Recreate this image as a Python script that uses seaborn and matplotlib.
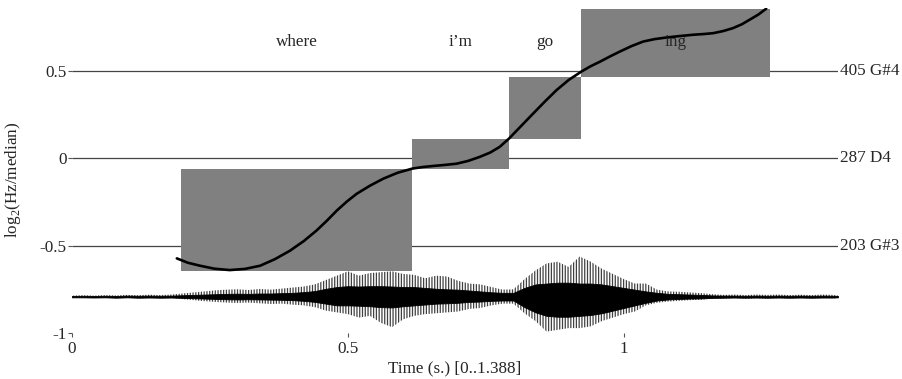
"""
Pitch contour (log2 Hz/median) over time with note boxes and waveform.
"""

import numpy as np
import pandas as pd
import matplotlib
matplotlib.use("Agg")
import matplotlib.pyplot as plt
import seaborn as sns

sns.set_theme(style="white")
plt.rcParams["font.family"] = ["Liberation Serif", "DejaVu Serif"]
plt.rcParams["mathtext.fontset"] = "custom"
plt.rcParams["mathtext.rm"] = "Liberation Serif"
plt.rcParams["axes.unicode_minus"] = False
plt.rcParams["hatch.linewidth"] = 0.9

T_END = 1.388
FS = 12.3

# ── datos ────────────────────────────────────────────────────────────────────
WORDS      = ["where", "i\u2019m", "go", "ing"]
BOX_START  = [0.197, 0.617, 0.792, 0.923]
BOX_END    = [0.617, 0.792, 0.923, 1.264]
BOX_BOTTOM = [-0.647, -0.063, 0.113, 0.466]
BOX_TOP    = [-0.063, 0.113, 0.466, 0.856]

LEVELS       = [0.5, 0.0, -0.5]
RIGHT_LABELS = ["405 G#4", "287 D4", "203 G#3"]

Y_TICKS  = [-1, -0.5, 0, 0.5]
Y_LABELS = ["-1", "-0.5", "0", "0.5"]
X_TICKS  = [0, 0.5, 1]
X_LABELS = ["0", "0.5", "1"]

CURVE_T = [0.190, 0.210, 0.232, 0.258, 0.286, 0.314, 0.341, 0.368, 0.395, 0.420,
           0.443, 0.462, 0.480, 0.498, 0.516, 0.540, 0.564, 0.590, 0.617, 0.636,
           0.655, 0.676, 0.697, 0.718, 0.739, 0.758, 0.775, 0.792, 0.814, 0.836,
           0.857, 0.878, 0.900, 0.923, 0.940, 0.957, 0.975, 0.993, 1.014, 1.035,
           1.056, 1.077, 1.100, 1.126, 1.145, 1.162, 1.180, 1.198, 1.214, 1.228,
           1.244, 1.258]
CURVE_Y = [-0.573, -0.598, -0.615, -0.632, -0.640, -0.633, -0.615, -0.577, -0.529, -0.474,
           -0.414, -0.357, -0.299, -0.248, -0.203, -0.157, -0.117, -0.083, -0.059, -0.050,
           -0.044, -0.038, -0.031, -0.015, 0.008, 0.033, 0.065, 0.113, 0.185, 0.257,
           0.325, 0.390, 0.448, 0.496, 0.527, 0.553, 0.583, 0.611, 0.642, 0.668,
           0.682, 0.691, 0.699, 0.707, 0.711, 0.716, 0.728, 0.745, 0.767, 0.793,
           0.823, 0.856]

# forma de onda: envolvente (desplazamientos desde el centro)
WAVE_CENTER = -0.792
WAVE_T = [0.00, 0.02, 0.04, 0.06, 0.08, 0.10, 0.12, 0.14, 0.16, 0.18,
          0.20, 0.22, 0.24, 0.26, 0.28, 0.30, 0.32, 0.34, 0.36, 0.38,
          0.40, 0.42, 0.44, 0.46, 0.48, 0.50, 0.52, 0.54, 0.56, 0.58,
          0.60, 0.62, 0.64, 0.66, 0.68, 0.70, 0.72, 0.74, 0.76, 0.78,
          0.80, 0.82, 0.84, 0.86, 0.88, 0.90, 0.92, 0.94, 0.96, 0.98,
          1.00, 1.02, 1.04, 1.06, 1.08, 1.10, 1.12, 1.14, 1.16, 1.18,
          1.20, 1.22, 1.24, 1.26, 1.28, 1.30, 1.32, 1.34, 1.36, 1.38, 1.388]
WAVE_UP = [.006, .008, .006, .009, .007, .010, .008, .011, .009, .012,
           .018, .024, .030, .036, .040, .042, .038, .044, .040, .046,
           .052, .058, .070, .095, .120, .145, .120, .135, .140, .145,
           .130, .125, .105, .120, .115, .090, .075, .070, .055, .040,
           .042, .100, .150, .190, .200, .170, .230, .200, .160, .130,
           .100, .075, .075, .040, .030, .028, .024, .020, .014, .010,
           .012, .009, .012, .010, .012, .009, .011, .009, .012, .010, .006]
WAVE_DOWN = [.006, .005, .008, .006, .009, .007, .010, .008, .010, .009,
             .014, .020, .026, .030, .034, .036, .034, .038, .042, .040,
             .046, .050, .060, .080, .090, .100, .120, .110, .150, .175,
             .130, .110, .100, .095, .090, .085, .070, .065, .050, .040,
             .040, .095, .140, .200, .190, .180, .180, .170, .140, .120,
             .100, .085, .050, .035, .028, .024, .020, .018, .012, .012,
             .009, .012, .010, .012, .009, .011, .009, .011, .009, .010, .006]
CORE_UP = [.004, .005, .004, .005, .004, .006, .005, .006, .005, .006,
           .008, .010, .012, .014, .016, .017, .016, .018, .018, .020,
           .022, .026, .032, .045, .055, .060, .058, .060, .060, .058,
           .055, .055, .050, .045, .042, .040, .035, .030, .025, .022,
           .022, .050, .070, .075, .080, .080, .075, .075, .070, .060,
           .050, .040, .030, .022, .016, .014, .012, .010, .007, .006,
           .006, .005, .006, .005, .006, .005, .006, .005, .006, .005, .004]
CORE_DOWN = [.004, .004, .005, .004, .006, .004, .006, .005, .006, .005,
             .007, .009, .011, .013, .015, .016, .015, .016, .017, .018,
             .020, .024, .030, .040, .050, .050, .052, .055, .060, .062,
             .055, .050, .045, .040, .038, .035, .030, .028, .024, .022,
             .022, .060, .090, .110, .115, .115, .110, .105, .095, .080,
             .065, .050, .035, .022, .016, .013, .011, .010, .007, .006,
             .005, .006, .005, .006, .005, .006, .005, .006, .005, .005, .004]

# ── figura ───────────────────────────────────────────────────────────────────
fig = plt.figure(figsize=(9.02, 3.79), dpi=100)
ax = fig.add_axes([0.0798, 0.1214, 0.8492, 0.8575])

ax.hlines(LEVELS, 0, T_END, color="#444444", linewidth=0.9, zorder=1)

ax.bar(BOX_START, np.subtract(BOX_TOP, BOX_BOTTOM), width=np.subtract(BOX_END, BOX_START),
       bottom=BOX_BOTTOM, align="edge", color="#808080", linewidth=0, zorder=2)

# envolvente exterior con rayado vertical (picos), núcleo en negro sólido
wt = np.array(WAVE_T)
ax.fill_between(wt, WAVE_CENTER + np.array(WAVE_UP), WAVE_CENTER - np.array(WAVE_DOWN),
                facecolor="none", edgecolor="#404040", hatch="||||||", linewidth=0, zorder=3)
ax.fill_between(wt, WAVE_CENTER + np.array(CORE_UP), WAVE_CENTER - np.array(CORE_DOWN),
                color="black", linewidth=0.6, edgecolor="black", zorder=3)

curve = pd.DataFrame({"t": CURVE_T, "y": CURVE_Y})
sns.lineplot(data=curve, x="t", y="y", color="black", linewidth=1.9,
             sort=False, estimator=None, ax=ax, zorder=4)

for w, s, e in zip(WORDS, BOX_START, BOX_END):
    ax.text((s + e) / 2, 0.668, w, ha="center", va="center", fontsize=FS, zorder=5)

for lev, lab in zip(LEVELS, RIGHT_LABELS):
    ax.text(T_END + 0.004, lev, lab, ha="left", va="center", fontsize=FS, clip_on=False)

ax.set_xlim(0, T_END)
ax.set_ylim(-1, 0.86)
ax.set_xticks(X_TICKS)
ax.set_xticklabels(X_LABELS, fontsize=FS)
ax.set_yticks(Y_TICKS)
ax.set_yticklabels(Y_LABELS, fontsize=FS)
ax.tick_params(axis="x", bottom=True, direction="out", length=3, width=0.8,
               color="#555555", pad=3)
ax.tick_params(axis="y", left=True, direction="out", length=3, width=0.8,
               color="#555555", pad=1)
for sp in ax.spines.values():
    sp.set_visible(False)

ax.set_xlabel("Time (s.) [0..1.388]", fontsize=FS)
ax.xaxis.set_label_coords(0.5, -0.085)
ax.set_ylabel(r"log$_\mathrm{2}$(Hz/median)", fontsize=FS)
ax.yaxis.set_label_coords(-0.064, 0.47)

fig.savefig("out.png", dpi=100)
plt.close(fig)
